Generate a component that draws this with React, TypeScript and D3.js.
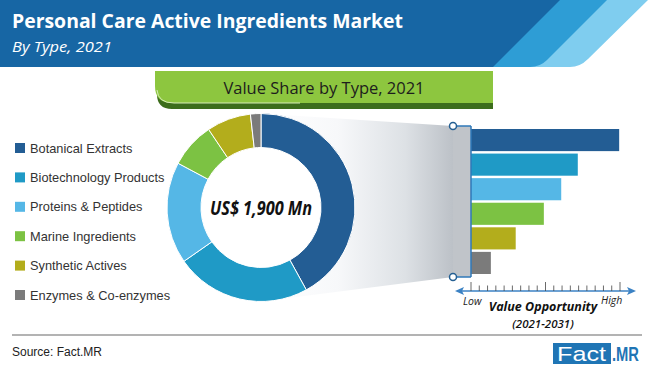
import React from 'react';
import * as d3 from 'd3';

const categories = [
  'Botanical Extracts',
  'Biotechnology Products',
  'Proteins & Peptides',
  'Marine Ingredients',
  'Synthetic Actives',
  'Enzymes & Co-enzymes',
];
const shareValues = [42, 23.3, 17.5, 7.8, 7.6, 1.8];
const opportunityValues = [17.9, 12.9, 10.9, 8.8, 5.4, 2.4];
const colors = ['#235d94', '#1f9ac6', '#55b7e6', '#7cc243', '#b3ad1c', '#7b7b7b'];
const opportunityTicks = d3.range(0, 19);

const W = 650;
const H = 366;

const App = () => {
  const cx = 261;
  const cy = 207.5;
  const outerR = 94;
  const innerR = 60;

  const pie = d3.pie<number>().sort(null).value(d => d);
  const arc = d3.arc<d3.PieArcDatum<number>>().innerRadius(innerR).outerRadius(outerR);
  const arcs = pie(shareValues);

  const x = d3.scaleLinear().domain([0, 18]).range([471, 620]);
  const y = d3.scaleBand<string>().domain(categories).range([129, 274]).paddingInner(0.1);

  const legendY = (i: number) => 148 + i * 29.4;
  const axisY = 291;

  return (
    <svg width={W} height={H} style={{ position: 'absolute', left: 0, top: 0, background: '#fff' }}>
      <defs>
        <linearGradient id="funnel" x1="0" x2="1" y1="0" y2="0">
          <stop offset="0%" stopColor="#ffffff" />
          <stop offset="40%" stopColor="#f7f8fa" />
          <stop offset="75%" stopColor="#dde1e5" />
          <stop offset="100%" stopColor="#bcc1c7" />
        </linearGradient>
      </defs>

      {/* header */}
      <path d="M0,0 L648,0 L588,59 Q580,67 570,67 L0,67 Z" fill="#7fcdef" />
      <path d="M0,0 L607,0 L547,60 Q540,67 530,67 L0,67 Z" fill="#2e9dd5" />
      <path d="M0,0 L560,0 L493,67 L0,67 Z" fill="#1766a4" />
      <text x={12} y={28} fill="#fff" fontFamily="Open Sans" fontWeight="bold" fontSize={20}
        textLength={391} lengthAdjust="spacingAndGlyphs">
        Personal Care Active Ingredients Market
      </text>
      <text x={12} y={52} fill="#fff" fontFamily="Open Sans" fontStyle="italic" fontSize={15}
        textLength={100} lengthAdjust="spacingAndGlyphs">
        By Type, 2021
      </text>

      {/* green banner */}
      <path d="M155,76 L493,76 L493,109 L172,109 Q157,109 157,94 Z" fill="#3c6d1c" />
      <path d="M155,71 L493,71 L493,103 L172,103 Q155,103 155,86 Z" fill="#8dc63f" />
      <path d="M157,90 Q158,103 174,103 L300,103" fill="none" stroke="#d6ecb8" strokeWidth={1} />
      <text x={324} y={94} textAnchor="middle" fill="#1d1d1d" fontFamily="Open Sans" fontSize={16.5}>
        Value Share by Type, 2021
      </text>

      {/* legend */}
      {categories.map((c, i) => (
        <g key={c}>
          <rect x={15} y={legendY(i) - 5} width={10} height={10} fill={colors[i]} />
          <text x={30} y={legendY(i) + 4.5} fill="#333" fontFamily="Liberation Sans" fontSize={12.8}>
            {c}
          </text>
        </g>
      ))}

      {/* funnel */}
      <path d={`M${cx},${cy - outerR} L453,126 L453,277 L${cx},${cy + outerR} Z`} fill="url(#funnel)" />
      <rect x={453} y={126} width={18} height={151} fill="#c0c4c9" />

      {/* donut */}
      <g transform={`translate(${cx},${cy})`}>
        <circle r={innerR} fill="#fff" />
        {arcs.map((a, i) => (
          <path key={i} d={arc(a) || ''} fill={colors[i]} stroke="#fff" strokeWidth={1} />
        ))}
        <text y={7} textAnchor="middle" fill="#111" fontFamily="Open Sans" fontWeight="bold"
          fontStyle="italic" fontSize={19} textLength={102} lengthAdjust="spacingAndGlyphs">
          US$ 1,900 Mn
        </text>
      </g>

      {/* bars */}
      {categories.map((c, i) => (
        <rect key={c} x={x(0)} y={y(c)} width={x(opportunityValues[i]) - x(0)} height={y.bandwidth()}
          fill={colors[i]} />
      ))}

      {/* bracket */}
      <line x1={471} x2={471} y1={126} y2={277} stroke="#2f78b8" strokeWidth={1.5} />
      <line x1={453} x2={471} y1={126} y2={126} stroke="#2f78b8" strokeWidth={1.5} />
      <line x1={453} x2={471} y1={277} y2={277} stroke="#2f78b8" strokeWidth={1.5} />
      <circle cx={453} cy={126} r={3.5} fill="#fff" stroke="#245f92" strokeWidth={1.5} />
      <circle cx={453} cy={277} r={3.5} fill="#fff" stroke="#245f92" strokeWidth={1.5} />

      {/* opportunity axis */}
      <line x1={462} x2={631} y1={axisY} y2={axisY} stroke="#3b82c4" strokeWidth={1.5} />
      <path d={`M455,${axisY} L464,${axisY - 4} L462,${axisY} L464,${axisY + 4} Z`} fill="#3b82c4" />
      <path d={`M636,${axisY} L627,${axisY - 4} L629,${axisY} L627,${axisY + 4} Z`} fill="#3b82c4" />
      {opportunityTicks.map(t => (
        <line key={t} x1={x(t)} x2={x(t)} y1={t % 9 === 0 ? axisY - 9 : axisY - 5.5} y2={axisY}
          stroke="#444" strokeWidth={0.8} />
      ))}
      <text x={463} y={305} fill="#222" fontFamily="Open Sans" fontStyle="italic" fontSize={10.5}>Low</text>
      <text x={601} y={304} fill="#222" fontFamily="Open Sans" fontStyle="italic" fontSize={10.5}>High</text>
      <text x={543} y={311} textAnchor="middle" fill="#111" fontFamily="Open Sans" fontWeight="bold"
        fontStyle="italic" fontSize={12.5}>Value Opportunity</text>
      <text x={543} y={328} textAnchor="middle" fill="#111" fontFamily="Open Sans" fontWeight={600}
        fontStyle="italic" fontSize={11.5}>(2021-2031)</text>

      {/* footer */}
      <line x1={12} x2={642} y1={335} y2={335} stroke="#9a9a9a" strokeWidth={1.5} />
      <text x={12} y={356} fill="#222" fontFamily="Liberation Sans" fontSize={12}>Source: Fact.MR</text>
      <rect x={553} y={343} width={58} height={21} fill="#1f75b5" />
      <text x={557} y={361} fill="#fff" fontFamily="Liberation Sans" fontSize={21}
        textLength={49} lengthAdjust="spacingAndGlyphs">Fact</text>
      <text x={612} y={361} fill="#1f75b5" fontFamily="Liberation Sans" fontWeight="bold" fontSize={20}
        textLength={27} lengthAdjust="spacingAndGlyphs">.MR</text>
    </svg>
  );
};

export default App;
